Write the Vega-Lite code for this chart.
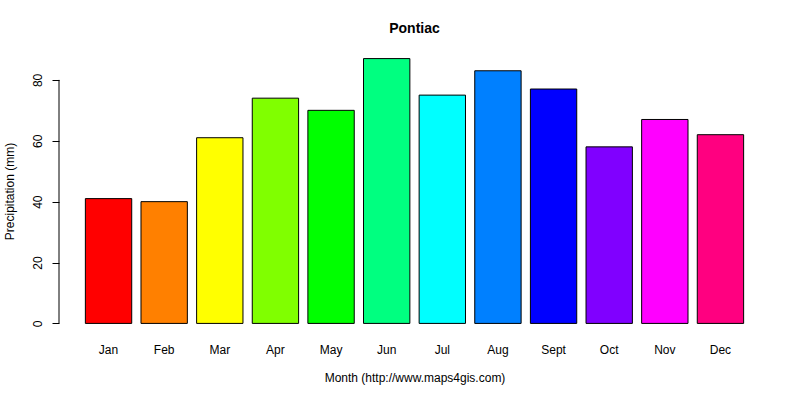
{
  "$schema": "https://vega.github.io/schema/vega-lite/v6.json",
  "autosize": {"type": "none"},
  "padding": {"left": 59, "top": 48, "right": 30, "bottom": 66},
  "width": 711,
  "height": 286,
  "background": "white",
  "config": {
    "view": {"stroke": null},
    "font": "Liberation Sans",
    "axis": {"labelFont": "Liberation Sans", "titleFont": "Liberation Sans", "labelColor": "black", "titleColor": "black", "titleFontWeight": "normal", "labelFontSize": 12, "titleFontSize": 12, "grid": false}
  },
  "title": {
    "text": "Pontiac",
    "font": "Liberation Sans",
    "fontSize": 14,
    "fontWeight": "bold",
    "color": "black",
    "anchor": "middle",
    "offset": 12
  },
  "data": {
    "values": [
      {"month": "Jan", "precip": 41, "color": "#FF0000"},
      {"month": "Feb", "precip": 40, "color": "#FF8000"},
      {"month": "Mar", "precip": 61, "color": "#FFFF00"},
      {"month": "Apr", "precip": 74, "color": "#80FF00"},
      {"month": "May", "precip": 70, "color": "#00FF00"},
      {"month": "Jun", "precip": 87, "color": "#00FF80"},
      {"month": "Jul", "precip": 75, "color": "#00FFFF"},
      {"month": "Aug", "precip": 83, "color": "#0080FF"},
      {"month": "Sept", "precip": 77, "color": "#0000FF"},
      {"month": "Oct", "precip": 58, "color": "#8000FF"},
      {"month": "Nov", "precip": 67, "color": "#FF00FF"},
      {"month": "Dec", "precip": 62, "color": "#FF0080"}
    ]
  },
  "layer": [
    {
      "mark": {"type": "bar", "stroke": "black", "strokeWidth": 1},
      "encoding": {
        "x": {
          "field": "month",
          "type": "nominal",
          "sort": null,
          "scale": {"paddingInner": 0.1667, "paddingOuter": 0.474},
          "axis": {"labelAngle": 0, "ticks": false, "domain": false, "labelPadding": 10, "title": "Month (http://www.maps4gis.com)", "titlePadding": 17}
        },
        "y": {
          "field": "precip",
          "type": "quantitative",
          "scale": {"domain": [-3.48, 90.48], "nice": false, "zero": false},
          "axis": {"values": [0, 20, 40, 60, 80], "labelAngle": -90, "labelAlign": "center", "labelBaseline": "bottom", "labelPadding": 8, "tickSize": 7, "tickColor": "black", "domain": false, "title": "Precipitation (mm)", "titlePadding": 15}
        },
        "y2": {"datum": 0},
        "color": {"field": "color", "type": "nominal", "scale": null}
      }
    },
    {
      "data": {"values": [{"lo": 0, "hi": 80}]},
      "mark": {"type": "rule", "color": "black", "strokeWidth": 1},
      "encoding": {
        "x": {"value": 0},
        "y": {"field": "lo", "type": "quantitative"},
        "y2": {"field": "hi"}
      }
    }
  ]
}
